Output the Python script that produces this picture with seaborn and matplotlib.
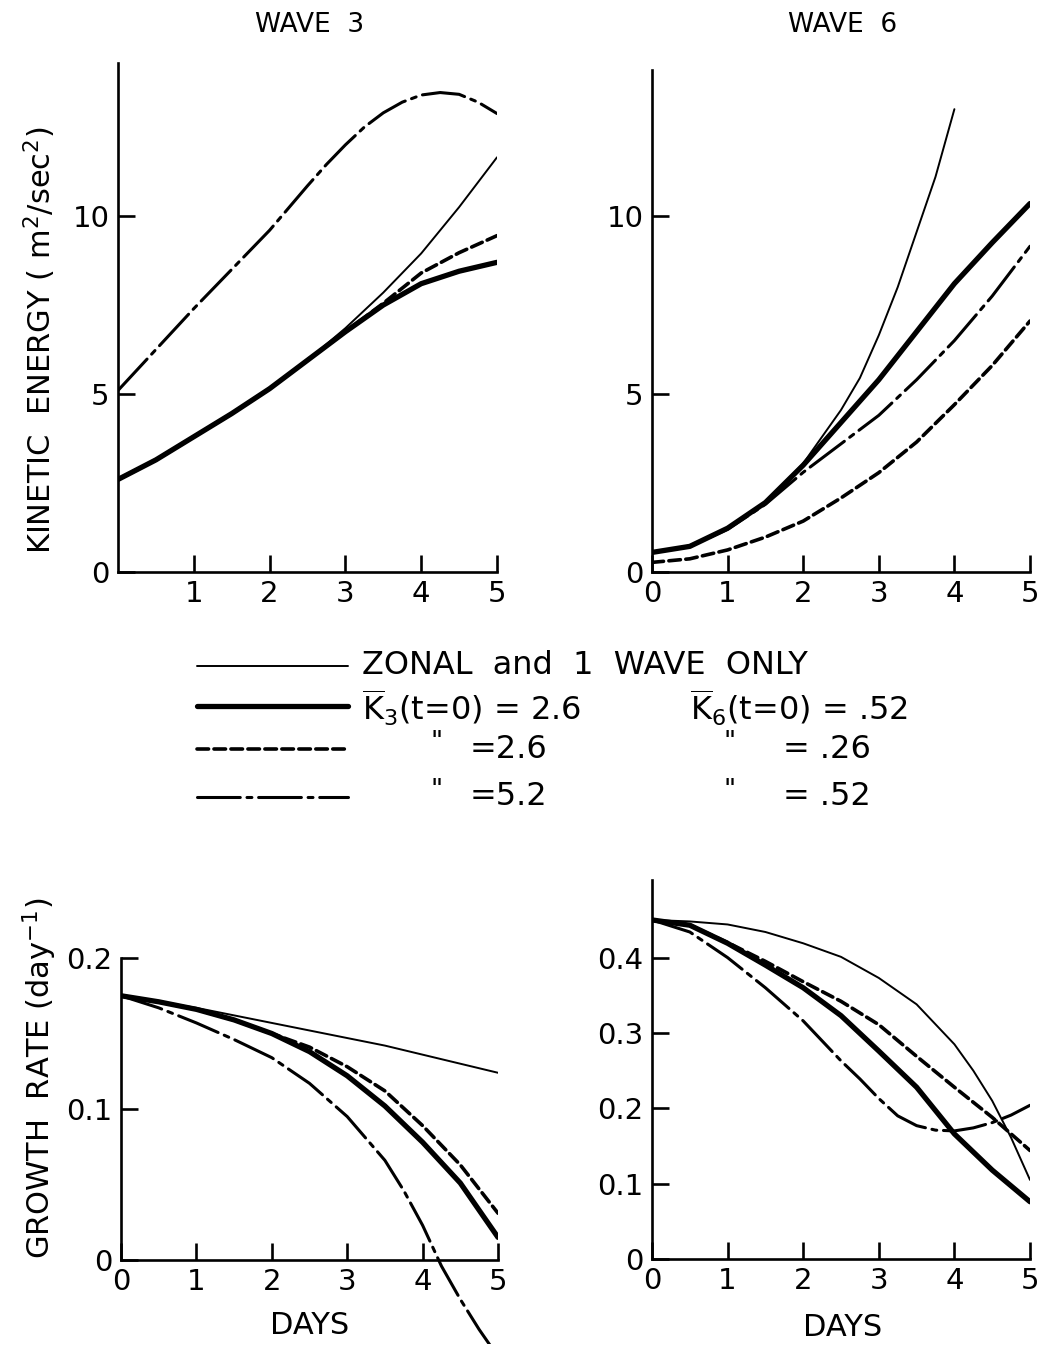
import numpy as np
import pandas as pd
import matplotlib
matplotlib.use("Agg")
import matplotlib.pyplot as plt
import seaborn as sns

# ---------------- data ----------------
DAYS = [0, 0.5, 1, 1.5, 2, 2.5, 3, 3.5, 4, 4.5, 5]

# Wave 3 kinetic energy (m^2/sec^2)
ke3_zonal   = [2.6, 3.15, 3.8, 4.45, 5.15, 5.95, 6.85, 7.85, 8.95, 10.25, 11.65]
ke3_k26     = [2.6, 3.15, 3.8, 4.45, 5.15, 5.95, 6.75, 7.5, 8.1, 8.45, 8.7]
ke3_k26_26  = [2.6, 3.15, 3.8, 4.45, 5.15, 5.95, 6.75, 7.55, 8.4, 8.97, 9.45]
ke3_k52_days = [0, 0.5, 1, 1.5, 2, 2.5, 2.75, 3, 3.25, 3.5, 3.75, 4, 4.25, 4.5, 4.75, 5]
ke3_k52      = [5.1, 6.25, 7.4, 8.5, 9.6, 10.85, 11.45, 12.0, 12.5, 12.9, 13.2, 13.4,
                13.47, 13.42, 13.2, 12.88]

# Wave 6 kinetic energy
ke6_zonal_days = [0, 0.5, 1, 1.5, 2, 2.25, 2.5, 2.75, 3, 3.25, 3.5, 3.75, 4]
ke6_zonal      = [0.55, 0.75, 1.25, 1.95, 3.05, 3.8, 4.55, 5.45, 6.65, 8.0, 9.55, 11.1, 13.0]
ke6_k26     = [0.55, 0.72, 1.23, 1.95, 3.0, 4.2, 5.4, 6.75, 8.1, 9.25, 10.35]
ke6_k26_26  = [0.27, 0.37, 0.62, 0.98, 1.43, 2.08, 2.79, 3.65, 4.7, 5.8, 7.05]
ke6_k52     = [0.55, 0.72, 1.2, 1.9, 2.8, 3.6, 4.4, 5.4, 6.5, 7.75, 9.15]

# Wave 3 growth rate (day^-1)
gr3_zonal   = [0.175, 0.171, 0.167, 0.162, 0.157, 0.152, 0.147, 0.142, 0.136, 0.130, 0.124]
gr3_k26     = [0.175, 0.171, 0.166, 0.159, 0.150, 0.138, 0.122, 0.102, 0.078, 0.051, 0.015]
gr3_k26_26  = [0.175, 0.171, 0.166, 0.159, 0.150, 0.141, 0.128, 0.112, 0.089, 0.063, 0.031]
gr3_k52_days = [0, 0.5, 1, 1.5, 2, 2.5, 3, 3.5, 3.75, 4, 4.25, 4.5, 4.75, 5]
gr3_k52      = [0.175, 0.167, 0.157, 0.146, 0.134, 0.117, 0.095, 0.066, 0.046, 0.023,
                -0.004, -0.026, -0.046, -0.064]

# Wave 6 growth rate
gr6_zonal_days = [0, 0.5, 1, 1.5, 2, 2.5, 3, 3.5, 4, 4.25, 4.5, 4.75, 5]
gr6_zonal      = [0.450, 0.448, 0.444, 0.434, 0.419, 0.401, 0.373, 0.338, 0.285, 0.250,
                  0.210, 0.161, 0.105]
gr6_k26     = [0.450, 0.443, 0.419, 0.390, 0.360, 0.323, 0.276, 0.228, 0.166, 0.118, 0.076]
gr6_k26_26  = [0.450, 0.443, 0.420, 0.395, 0.368, 0.342, 0.311, 0.269, 0.228, 0.188, 0.144]
gr6_k52_days = [0, 0.5, 1, 1.5, 2, 2.5, 2.75, 3, 3.25, 3.5, 3.75, 4, 4.25, 4.5, 4.75, 5]
gr6_k52      = [0.450, 0.434, 0.400, 0.360, 0.316, 0.263, 0.239, 0.213, 0.190, 0.177,
                0.171, 0.170, 0.174, 0.181, 0.191, 0.204]

TITLES = ["WAVE  3", "WAVE  6"]
LEGEND_ROWS = ["ZONAL  and  1  WAVE  ONLY",
               r"$\overline{\mathrm{K}}_{3}$(t=0) = 2.6",
               "=2.6", "=5.2"]
LEGEND_COL2 = [r"$\overline{\mathrm{K}}_{6}$(t=0) = .52", "= .26", "= .52"]

# ---------------- styles ----------------
sns.set_theme(style="white")
plt.rcParams["font.family"] = ["DejaVu Sans"]
plt.rcParams["mathtext.fontset"] = "dejavusans"
for k in ["text.color", "axes.labelcolor", "xtick.color", "ytick.color", "axes.edgecolor"]:
    plt.rcParams[k] = "black"

STY = {
    "zonal":   dict(linewidth=1.4, linestyle="-"),
    "k26":     dict(linewidth=3.8, linestyle="-"),
    "k26_26":  dict(linewidth=2.6, linestyle=(0, (3.2, 1.5))),
    "k52":     dict(linewidth=2.2, linestyle=(0, (14, 2.2, 1.6, 2.2))),
}

W, H = 1046, 1345
fig = plt.figure(figsize=(W / 100, H / 100), dpi=100)
fig.patch.set_facecolor("white")

def add_ax(l, r, t, b):
    return fig.add_axes([l / W, 1 - b / H, (r - l) / W, (b - t) / H])

TICKFS = 21

def style_ax(ax, xticks, yticks, ylab_fmt):
    for s in ["top", "right"]:
        ax.spines[s].set_visible(False)
    for s in ["left", "bottom"]:
        ax.spines[s].set_color("black")
        ax.spines[s].set_linewidth(1.9)
    ax.set_facecolor("white")
    ax.grid(False)
    ax.set_xticks(xticks)
    ax.set_xticklabels([str(v) for v in xticks])
    ax.set_yticks(yticks)
    ax.set_yticklabels([ylab_fmt(v) for v in yticks])
    ax.tick_params(direction="in", length=12, width=1.9, color="black",
                   labelcolor="black", labelsize=TICKFS, pad=6, left=True, bottom=True)
    ax.set_xlabel("")
    ax.set_ylabel("")

def draw(ax, x, y, key):
    sns.lineplot(x=x, y=y, ax=ax, color="black", estimator=None, sort=False,
                 solid_capstyle="round", dash_capstyle="round",
                 solid_joinstyle="round", **STY[key])

# ---------- top-left: wave 3 KE ----------
ax1 = add_ax(118, 497, 63, 572)
draw(ax1, DAYS, ke3_zonal, "zonal")
draw(ax1, DAYS, ke3_k26, "k26")
draw(ax1, DAYS, ke3_k26_26, "k26_26")
draw(ax1, ke3_k52_days, ke3_k52, "k52")
ax1.set_xlim(0, 5)
ax1.set_ylim(0, 14.3)
style_ax(ax1, [1, 2, 3, 4, 5], [0, 5, 10], lambda v: f"{v:g}")

# ---------- top-right: wave 6 KE ----------
ax2 = add_ax(652, 1030, 70, 572)
draw(ax2, ke6_zonal_days, ke6_zonal, "zonal")
draw(ax2, DAYS, ke6_k26, "k26")
draw(ax2, DAYS, ke6_k26_26, "k26_26")
draw(ax2, DAYS, ke6_k52, "k52")
ax2.set_xlim(0, 5)
ax2.set_ylim(0, 14.1)
style_ax(ax2, [0, 1, 2, 3, 4, 5], [0, 5, 10], lambda v: f"{v:g}")

# ---------- bottom-left: wave 3 growth ----------
ax3 = add_ax(121, 498, 958, 1344)
draw(ax3, DAYS, gr3_zonal, "zonal")
draw(ax3, DAYS, gr3_k26, "k26")
draw(ax3, DAYS, gr3_k26_26, "k26_26")
draw(ax3, gr3_k52_days, gr3_k52, "k52")
ax3.set_xlim(0, 5)
ax3.set_ylim(-0.0556, 0.2)
style_ax(ax3, [0, 1, 2, 3, 4, 5], [0, 0.1, 0.2], lambda v: "0" if v == 0 else f"{v:.1f}")
ax3.spines["bottom"].set_position(("data", 0))
ax3.spines["left"].set_bounds(0, 0.2)

# ---------- bottom-right: wave 6 growth ----------
ax4 = add_ax(652, 1030, 880, 1259)
draw(ax4, gr6_zonal_days, gr6_zonal, "zonal")
draw(ax4, DAYS, gr6_k26, "k26")
draw(ax4, DAYS, gr6_k26_26, "k26_26")
draw(ax4, gr6_k52_days, gr6_k52, "k52")
ax4.set_xlim(0, 5)
ax4.set_ylim(0, 0.503)
style_ax(ax4, [0, 1, 2, 3, 4, 5], [0, 0.1, 0.2, 0.3, 0.4],
         lambda v: "0" if v == 0 else f"{v:.1f}")

# ---------- titles & axis labels ----------
fig.text(310 / W, 1 - 25 / H, TITLES[0], ha="center", va="center", fontsize=19)
fig.text(843 / W, 1 - 25 / H, TITLES[1], ha="center", va="center", fontsize=19)
fig.text(40 / W, 1 - 340 / H, "KINETIC  ENERGY ( m$^2$/sec$^2$)", rotation=90,
         ha="center", va="center", fontsize=22)
fig.text(40 / W, 1 - 1078 / H, "GROWTH  RATE (day$^{-1}$)", rotation=90,
         ha="center", va="center", fontsize=22)
fig.text(310 / W, 1 - 1325 / H, "DAYS", ha="center", va="center", fontsize=22)
fig.text(843 / W, 1 - 1327 / H, "DAYS", ha="center", va="center", fontsize=22)

# ---------- legend ----------
lax = fig.add_axes([0, 0, 1, 1], zorder=-1)
lax.set_xlim(0, W)
lax.set_ylim(H, 0)
lax.axis("off")
rows_y = [666, 706, 749, 797]
for key, yy in zip(["zonal", "k26", "k26_26", "k52"], rows_y):
    lax.plot([197, 348], [yy, yy], color="black", solid_capstyle="round",
             dash_capstyle="round", **STY[key])

LFS = 23
fig.text(362 / W, 1 - 666 / H, LEGEND_ROWS[0], ha="left", va="center", fontsize=LFS)
fig.text(362 / W, 1 - 708 / H, LEGEND_ROWS[1], ha="left", va="center", fontsize=LFS)
fig.text(690 / W, 1 - 708 / H, LEGEND_COL2[0], ha="left", va="center", fontsize=LFS)
for yy, left_txt, right_txt in [(749, LEGEND_ROWS[2], LEGEND_COL2[1]),
                                (797, LEGEND_ROWS[3], LEGEND_COL2[2])]:
    fig.text(437 / W, 1 - (yy - 6) / H, '"', ha="center", va="center", fontsize=LFS - 4)
    fig.text(470 / W, 1 - yy / H, left_txt, ha="left", va="center", fontsize=LFS)
    fig.text(730 / W, 1 - (yy - 6) / H, '"', ha="center", va="center", fontsize=LFS - 4)
    fig.text(783 / W, 1 - yy / H, right_txt, ha="left", va="center", fontsize=LFS)

fig.savefig("out.png", dpi=100, facecolor="white")
